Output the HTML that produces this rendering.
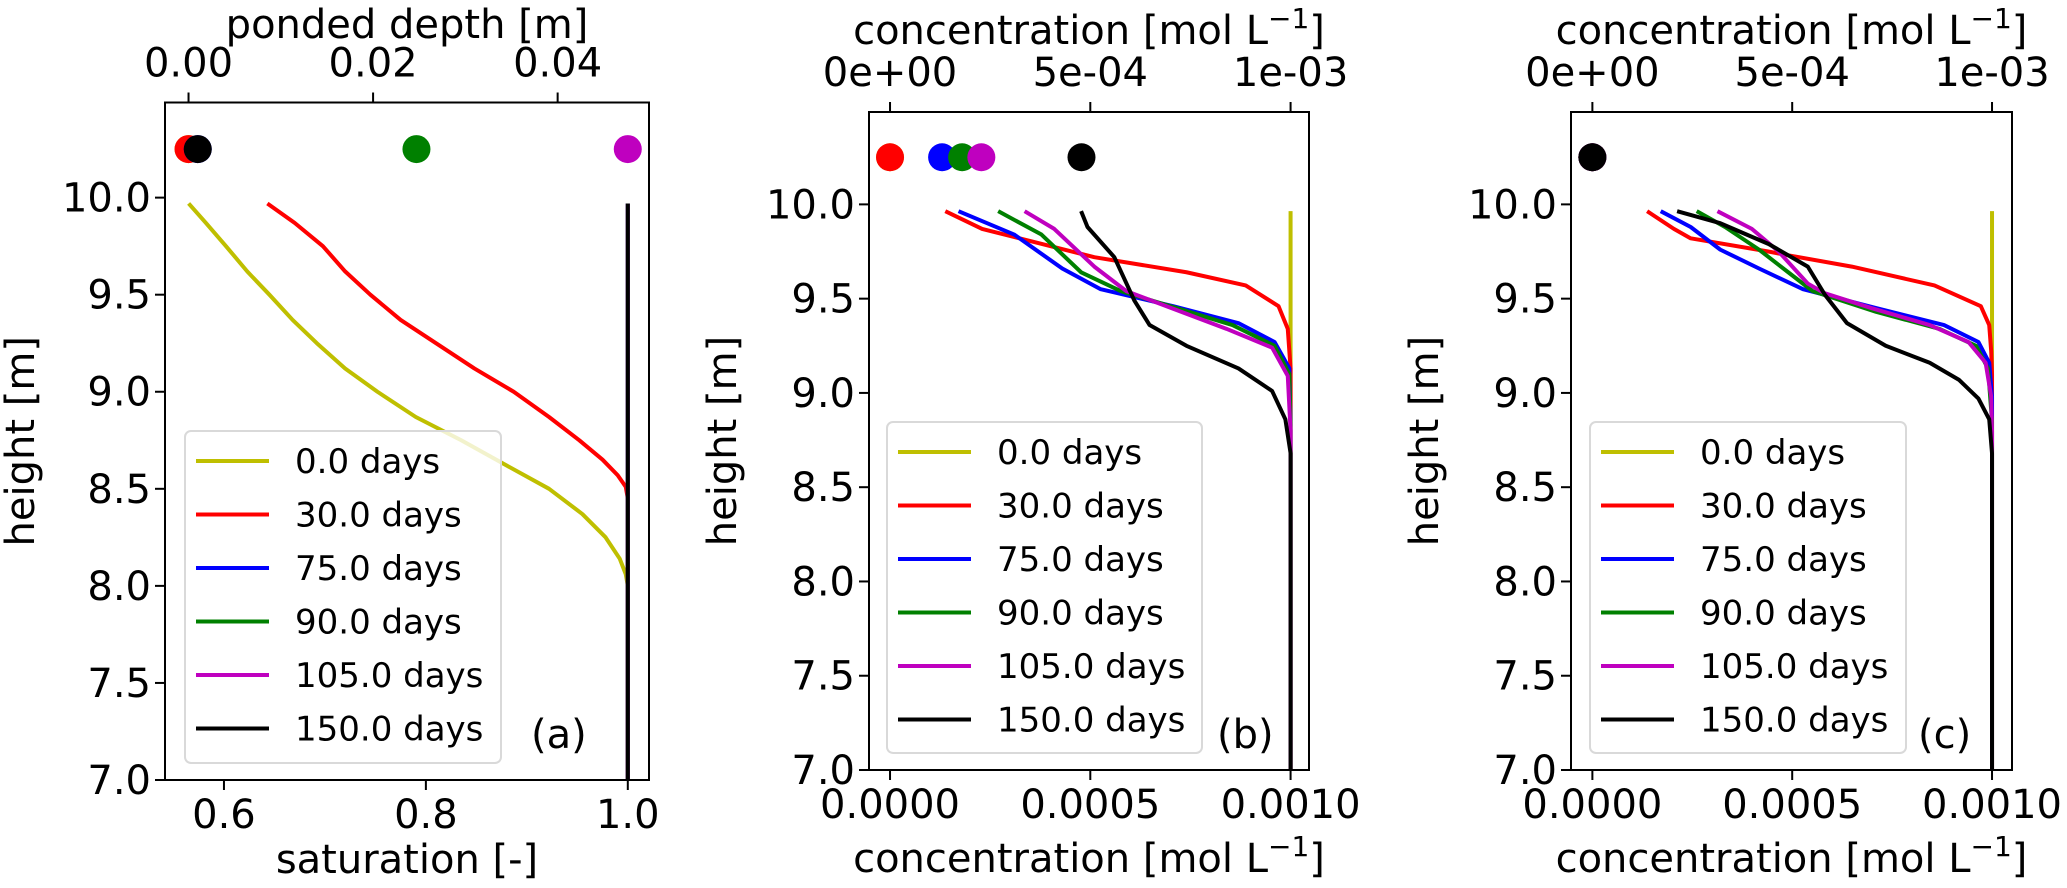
<!DOCTYPE html>
<html><head><meta charset="utf-8"><style>
html,body{margin:0;padding:0;background:#fff;}
svg{display:block;font-family:"DejaVu Sans","Liberation Sans",sans-serif;}
</style></head><body>
<svg id="fig" width="2067" height="888" viewBox="0 0 2067 888" xmlns="http://www.w3.org/2000/svg"></svg>
<script>
// ---- data ----
const seriesNames = ["0.0 days","30.0 days","75.0 days","90.0 days","105.0 days","150.0 days"];
const seriesColors = ["#bfbf00","#ff0000","#0000ff","#008000","#bf00bf","#000000"];
const heightTicks = [7.0,7.5,8.0,8.5,9.0,9.5,10.0];
const satTicks = [0.6,0.8,1.0];
const pondTicks = [0.0,0.02,0.04];
const concTicks = [0,0.0005,0.001];
const concTopLabels = ["0e+00","5e-04","1e-03"];
// panel a saturation profiles [saturation, height]
const satYellow = [[0.565,9.97],[0.582,9.87],[0.602,9.75],[0.623,9.62],[0.645,9.5],[0.668,9.37],[0.692,9.25],[0.72,9.12],[0.752,9.0],[0.79,8.87],[0.835,8.75],[0.88,8.62],[0.922,8.5],[0.955,8.37],[0.978,8.25],[0.992,8.14],[0.998,8.06],[1.0,8.0],[1.0,7.0]];
const satRed = [[0.643,9.97],[0.67,9.87],[0.698,9.75],[0.72,9.62],[0.745,9.5],[0.775,9.37],[0.81,9.25],[0.848,9.12],[0.887,9.0],[0.922,8.87],[0.952,8.75],[0.975,8.65],[0.99,8.57],[0.998,8.51],[1.0,8.45],[1.0,7.0]];
const satBlue = [[1.0,9.97],[1.0,7.0]];
const satGreen = [[1.0,9.97],[1.0,7.0]];
const satMagenta = [[1.0,9.97],[1.0,7.0]];
const satBlack = [[1.0,9.97],[1.0,7.0]];
const pondDepths = [0.0,0.0,0.001,0.0247,0.0476,0.001];
// panel b concentration profiles [conc x1e-3, height]
const bYellow = [[1.0,9.964],[1.0,7.0]];
const bRed = [[0.138,9.964],[0.23,9.87],[0.51,9.72],[0.74,9.64],[0.888,9.57],[0.97,9.46],[0.993,9.34],[1.0,9.13],[1.0,7.0]];
const bBlue = [[0.171,9.964],[0.31,9.84],[0.43,9.66],[0.526,9.55],[0.707,9.46],[0.87,9.37],[0.96,9.27],[0.997,9.13],[1.0,8.83],[1.0,7.0]];
const bGreen = [[0.27,9.964],[0.378,9.84],[0.477,9.64],[0.576,9.54],[0.855,9.36],[0.96,9.25],[0.997,9.1],[1.0,8.8],[1.0,7.0]];
const bMagenta = [[0.336,9.964],[0.41,9.87],[0.51,9.67],[0.59,9.54],[0.84,9.34],[0.954,9.24],[0.993,9.09],[1.0,8.8],[1.0,7.0]];
const bBlack = [[0.477,9.964],[0.493,9.88],[0.56,9.72],[0.61,9.49],[0.648,9.36],[0.74,9.25],[0.87,9.13],[0.954,9.01],[0.987,8.86],[1.0,8.68],[1.0,7.0]];
const bTopConc = [0.0,0.0,0.13,0.18,0.228,0.478];
// panel c
const cYellow = [[1.0,9.964],[1.0,7.0]];
const cRed = [[0.137,9.964],[0.204,9.87],[0.246,9.82],[0.44,9.75],[0.49,9.73],[0.649,9.67],[0.856,9.57],[0.972,9.46],[0.993,9.36],[0.998,9.22],[1.0,9.1],[1.0,7.0]];
const cBlue = [[0.171,9.964],[0.246,9.88],[0.32,9.76],[0.417,9.66],[0.527,9.55],[0.71,9.45],[0.88,9.36],[0.966,9.27],[0.993,9.16],[1.0,8.98],[1.0,7.0]];
const cGreen = [[0.261,9.964],[0.332,9.88],[0.417,9.76],[0.49,9.64],[0.551,9.54],[0.71,9.43],[0.868,9.34],[0.96,9.25],[0.99,9.13],[1.0,8.85],[1.0,7.0]];
const cMagenta = [[0.313,9.964],[0.399,9.87],[0.466,9.75],[0.539,9.58],[0.58,9.53],[0.698,9.45],[0.844,9.36],[0.941,9.27],[0.984,9.16],[0.998,8.98],[1.0,8.8],[1.0,7.0]];
const cBlack = [[0.212,9.964],[0.32,9.9],[0.441,9.79],[0.539,9.67],[0.582,9.52],[0.637,9.37],[0.734,9.25],[0.844,9.16],[0.917,9.07],[0.966,8.97],[0.993,8.86],[1.0,8.68],[1.0,7.0]];
const cTopConc = [0.0,0.0,0.0,0.0,0.0,0.0];

const NS="http://www.w3.org/2000/svg";
const svg=document.getElementById('fig');
function mk(tag,attrs,parent){const e=document.createElementNS(NS,tag);for(const k in attrs)e.setAttribute(k,attrs[k]);(parent||svg).appendChild(e);return e;}
function lin(d0,d1,p0,p1){return v=>p0+(v-d0)/(d1-d0)*(p1-p0);}

function panel(cfg){
  const g=mk('g',{});
  
  
  const X=lin(cfg.xmin,cfg.xmax,cfg.L,cfg.R), Y=lin(cfg.ymin,cfg.ymax,cfg.B,cfg.T);
  const XT=lin(cfg.txmin,cfg.txmax,cfg.L,cfg.R);
  cfg.series.forEach((s,i)=>{
    const pts=s.map(p=>X(p[0]*cfg.xs)+','+Y(p[1])).join(' ');
    const pl=mk('polyline',{points:pts,fill:'none',stroke:seriesColors[i],'stroke-width':4,'stroke-linejoin':'round'},g);
    
    
  });
  cfg.dots.forEach((v,i)=>{
    const c=mk('circle',{cx:XT(v*cfg.ts),cy:Y(10.25),r:14,fill:seriesColors[i]},g);
    
    
  });
  const fr=mk('rect',{x:cfg.L,y:cfg.T,width:cfg.R-cfg.L,height:cfg.B-cfg.T,fill:'none',stroke:'#000','stroke-width':2},g);
  
  
  heightTicks.forEach(v=>{
    const y=Y(v);
    mk('line',{x1:cfg.L-10,x2:cfg.L,y1:y,y2:y,stroke:'#000','stroke-width':2},g);
    const t=mk('text',{x:cfg.L-14,y:y+14,'text-anchor':'end','font-size':40},g);
    t.textContent=v.toFixed(1);
    
    
  });
  cfg.bticks.forEach((v,i)=>{
    const x=X(v);
    mk('line',{x1:x,x2:x,y1:cfg.B,y2:cfg.B+10,stroke:'#000','stroke-width':2},g);
    const t=mk('text',{x:x,y:cfg.B+48,'text-anchor':'middle','font-size':40},g);
    t.textContent=cfg.blabels[i];
    
    
  });
  cfg.tticks.forEach((v,i)=>{
    const x=XT(v);
    mk('line',{x1:x,x2:x,y1:cfg.T-10,y2:cfg.T,stroke:'#000','stroke-width':2},g);
    const t=mk('text',{x:x,y:cfg.T-26,'text-anchor':'middle','font-size':40},g);
    t.textContent=cfg.tlabels[i];
    
    
  });
  const yt=mk('text',{x:0,y:0,'text-anchor':'middle','font-size':40,transform:`translate(${cfg.ylabX},${(cfg.T+cfg.B)/2}) rotate(-90)`},g);
  yt.textContent='height [m]';
  
  
  const bt=mk('text',{x:(cfg.L+cfg.R)/2,y:cfg.blabY,'text-anchor':'middle','font-size':40},g);
  bt.innerHTML=cfg.btitle;
  
  
  const tt=mk('text',{x:(cfg.L+cfg.R)/2,y:cfg.tlabY,'text-anchor':'middle','font-size':40},g);
  tt.innerHTML=cfg.ttitle;
  
  
  const lg=mk('g',{},g);
  
  
  mk('rect',{x:cfg.lg[0],y:cfg.lg[1],width:cfg.lg[2],height:cfg.lg[3],rx:6,fill:'#fff','fill-opacity':0.8,stroke:'#d9d9d9','stroke-width':2},lg);
  seriesNames.forEach((n,i)=>{
    const y=cfg.lg[1]+30+i*53.5;
    const le=mk('g',{},lg);
    
    
    mk('line',{x1:cfg.lg[0]+11,x2:cfg.lg[0]+84,y1:y,y2:y,stroke:seriesColors[i],'stroke-width':4},le);
    const t=mk('text',{x:cfg.lg[0]+110,y:y+12,'font-size':34},le);
    t.textContent=n;
  });
  const pl=mk('text',{x:cfg.plx,y:748,'font-size':40},g);
  pl.textContent=cfg.plabel;
  
  
}
const concTitle='concentration [mol L<tspan font-size="28" dy="-16">−1</tspan><tspan dy="16">]</tspan>';
panel({name:'panel-a',L:165,R:649,T:102.5,B:780,xmin:0.5416,xmax:1.021,ymin:7,ymax:10.49,xs:1,
  txmin:-0.00255,txmax:0.0499,ts:1,
  series:[satYellow,satRed,satBlue,satGreen,satMagenta,satBlack],dots:pondDepths,
  bticks:satTicks,blabels:["0.6","0.8","1.0"],tticks:pondTicks,tlabels:["0.00","0.02","0.04"],
  ylabX:34,blabY:873,tlabY:38,btitle:'saturation [-]',ttitle:'ponded depth [m]',
  lg:[185,431,316,332],plx:531,plabel:'(a)'});
panel({name:'panel-b',L:869,R:1309,T:112,B:770,xmin:-0.0000525,xmax:0.001046,ymin:7,ymax:10.49,xs:0.001,
  txmin:-0.0000525,txmax:0.001046,ts:0.001,
  series:[bYellow,bRed,bBlue,bGreen,bMagenta,bBlack],dots:bTopConc,
  bticks:concTicks,blabels:["0.0000","0.0005","0.0010"],tticks:concTicks,tlabels:concTopLabels,
  ylabX:736,blabY:872,tlabY:44,btitle:concTitle,ttitle:concTitle,
  lg:[887,422,315,331],plx:1217,plabel:'(b)'});
panel({name:'panel-c',L:1571,R:2012,T:112,B:770,xmin:-0.0000535,xmax:0.00105,ymin:7,ymax:10.49,xs:0.001,
  txmin:-0.0000535,txmax:0.00105,ts:0.001,
  series:[cYellow,cRed,cBlue,cGreen,cMagenta,cBlack],dots:cTopConc,
  bticks:concTicks,blabels:["0.0000","0.0005","0.0010"],tticks:concTicks,tlabels:concTopLabels,
  ylabX:1438,blabY:872,tlabY:44,btitle:concTitle,ttitle:concTitle,
  lg:[1590,422,316,331],plx:1918,plabel:'(c)'});
</script>
</body></html>
